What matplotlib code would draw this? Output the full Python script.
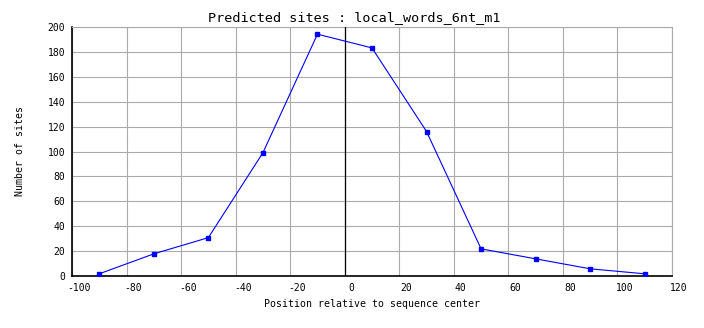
import matplotlib
matplotlib.use("Agg")
import matplotlib.pyplot as plt
import matplotlib.transforms as mtransforms

positions = [-90, -70, -50, -30, -10, 10, 30, 50, 70, 90, 110]
sites = [2, 18, 31, 99, 194, 183, 116, 22, 14, 6, 2]
xticks = list(range(-100, 121, 20))
yticks = list(range(0, 201, 20))

font = "DejaVu Sans Mono"
fig = plt.figure(figsize=(7.04, 3.28), dpi=100)
ax = fig.add_axes([72/704, 1 - 276.3/328, 600/704, (276.3 - 26.7)/328])

ax.plot(positions, sites, color="#0000ff", lw=0.8, marker="s", ms=2.2,
        mec="#0000ff", mfc="#0000ff", zorder=4)
ax.axvline(0, color="black", lw=0.9, zorder=3)

ax.set_xlim(-100, 120)
ax.set_ylim(0, 200)
ax.set_xticks(xticks)
ax.set_yticks(yticks)
ax.set_xticklabels([str(v) for v in xticks], fontfamily=font, fontsize=7)
ax.set_yticklabels([str(v) for v in yticks], fontfamily=font, fontsize=7)
ax.tick_params(length=0, pad=5, colors="black")
ax.grid(True, color="#aaaaaa", lw=0.8, zorder=1)
ax.set_axisbelow(True)

for side in ("top", "right"):
    ax.spines[side].set_color("#aaaaaa")
    ax.spines[side].set_linewidth(0.8)
for side in ("left", "bottom"):
    ax.spines[side].set_color("black")
    ax.spines[side].set_linewidth(1.2)

offset = mtransforms.ScaledTranslation(7/100, 0, fig.dpi_scale_trans)
for lab in ax.get_xticklabels():
    lab.set_transform(lab.get_transform() + offset)

ax.set_xlabel("Position relative to sequence center", fontfamily=font,
              fontsize=7.1, labelpad=4)
ax.set_ylabel("Number of sites", fontfamily=font, fontsize=7.1, labelpad=16)
fig.text(0.503, 1 - 18/328, "Predicted sites : local_words_6nt_m1",
         fontfamily=font, fontsize=9.7, ha="center", va="center")

fig.savefig("out.png", dpi=100)
